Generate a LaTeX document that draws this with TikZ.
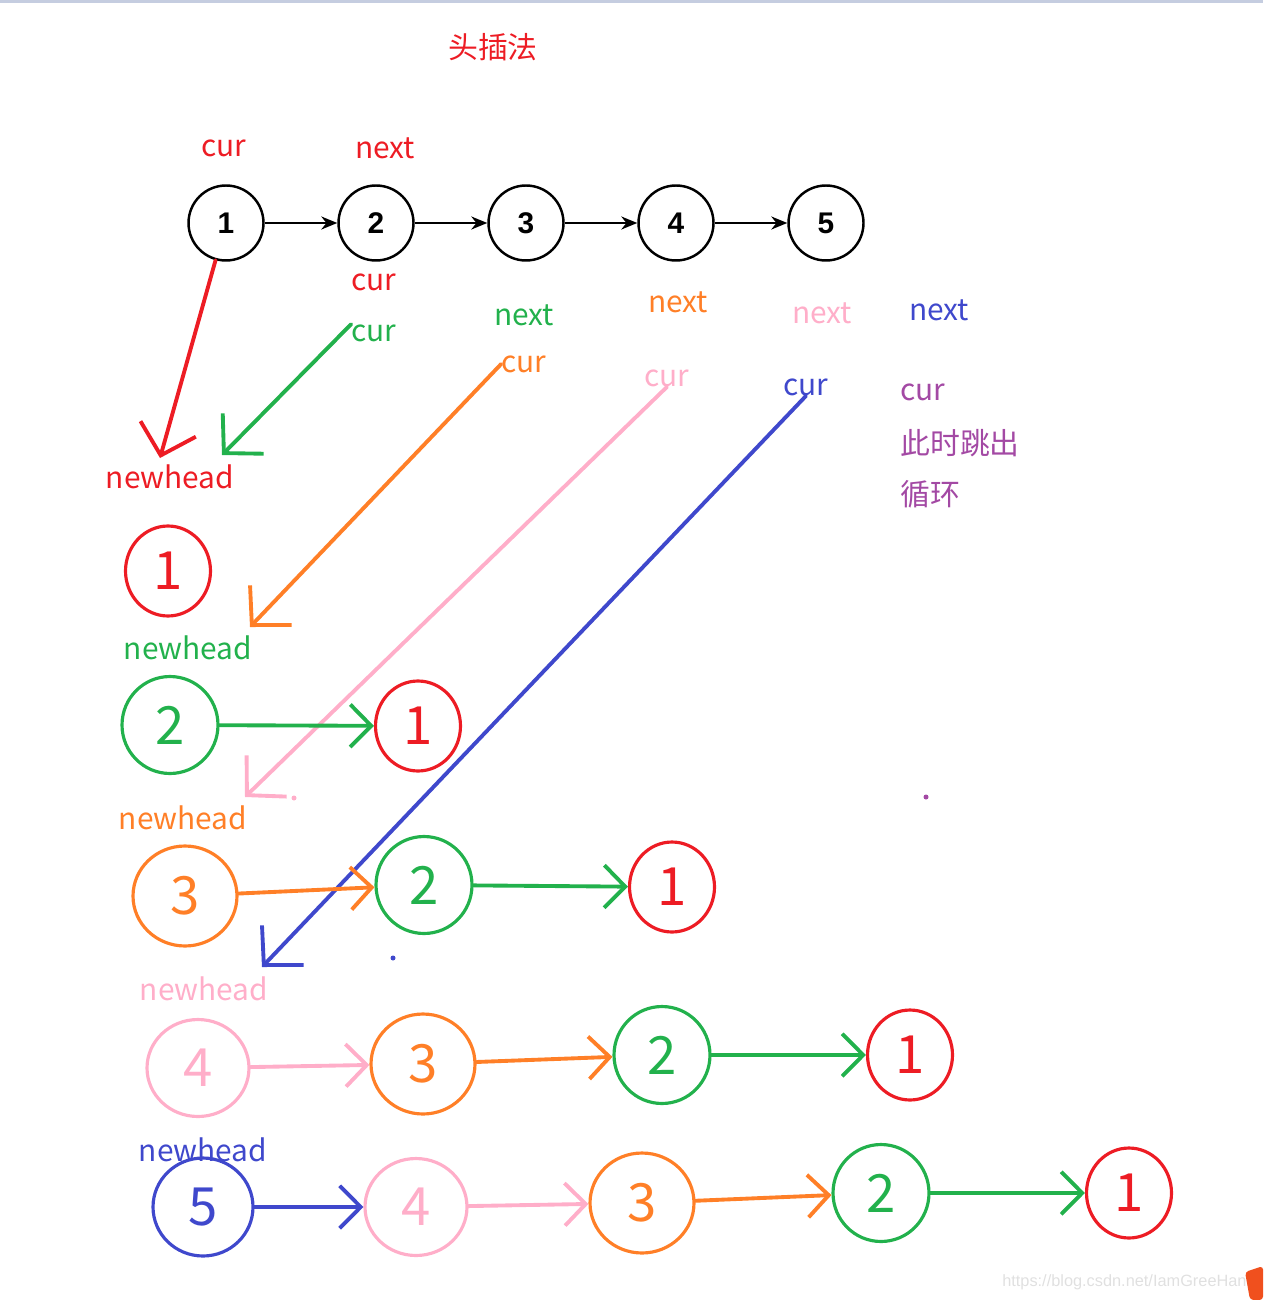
\documentclass[tikz,border=0pt]{standalone}
\usepackage{xcolor}
\usepackage{fontspec}
\setmainfont{Noto Sans CJK SC}
\newfontfamily\numfont{Liberation Sans}
\usetikzlibrary{arrows.meta,shapes.geometric}
\definecolor{hred}{RGB}{237,28,36}
\definecolor{hgreen}{RGB}{34,177,76}
\definecolor{horange}{RGB}{255,127,39}
\definecolor{hpink}{RGB}{255,174,201}
\definecolor{hblue}{RGB}{63,72,204}
\definecolor{hpurple}{RGB}{163,73,164}
\definecolor{frame}{RGB}{197,205,224}
\definecolor{csdn}{RGB}{240,80,30}

\begin{document}
\begin{tikzpicture}[x=0.02cm,y=-0.02cm,
  lbl/.style={font=\fontsize{17}{20}\selectfont,inner sep=0pt},
  blk/.style={circle,draw=black,line width=1.4pt,minimum size=1.5cm,inner sep=0pt,font=\numfont\bfseries\fontsize{17}{17}\selectfont},
  ring/.style={ellipse,line width=1.8pt,inner sep=0pt,font=\fontsize{30}{30}\selectfont},
  ringone/.style={ring,draw=hred,text=hred,minimum width=1.7cm,minimum height=1.8cm},
  ringtwo/.style={ring,draw=hgreen,text=hgreen,minimum width=1.92cm,minimum height=1.94cm},
  ringthree/.style={ring,draw=horange,text=horange,minimum width=2.08cm,minimum height=2cm},
  ringfour/.style={ring,draw=hpink,text=hpink,minimum width=2.04cm,minimum height=1.94cm},
  ringfive/.style={ring,draw=hblue,text=hblue,minimum width=2cm,minimum height=1.96cm},
  hand/.style={line width=2.2pt,line cap=round,-{Straight Barb[length=0.42cm,width=0.85cm]}},
  long/.style={line width=2.2pt,line cap=round,-{Straight Barb[length=0.55cm,width=1.15cm]}},
  link/.style={line width=1.4pt,-{Stealth[length=0.32cm,width=0.26cm]}}]
\useasboundingbox (0,0) rectangle (1263,1300);
\fill[frame] (0,0) rectangle (1263,3);
\node[lbl,text=hred] (title) at (493,47) {头插法};

% the list
\foreach \i/\x in {1/226,2/376,3/526,4/676,5/826}
  \node[blk] (t\i) at (\x,223) {\i};
\foreach \i/\j in {1/2,2/3,3/4,4/5}
  \draw[link] (t\i) -- (t\j);

% labels of each step
\node[lbl,text=hred] (cura) at (224,148) {cur};
\node[lbl,text=hred] (nexta) at (385,148) {next};
\node[lbl,text=hred] (curr) at (374,282) {cur};
\node[lbl,text=hgreen] (nextg) at (524,315) {next};
\node[lbl,text=hgreen] (curg) at (374,333) {cur};
\node[lbl,text=horange] (nexto) at (678,302) {next};
\node[lbl,text=horange] (curo) at (524,364) {cur};
\node[lbl,text=hpink] (nextp) at (822,313) {next};
\node[lbl,text=hpink] (curp) at (667,378) {cur};
\node[lbl,text=hblue] (nextb) at (939,310) {next};
\node[lbl,text=hblue] (curb) at (806,387) {cur};
\node[lbl,text=hpurple,anchor=west] (curx) at (900,392) {cur};
\node[lbl,text=hpurple,anchor=west] (stop) at (900,443) {此时跳出};
\node[lbl,text=hpurple,anchor=west] (loop) at (900,494) {循环};

% where newhead points
\coordinate (tipr) at (160,458);
\coordinate (tipg) at (222,455);
\coordinate (tipo) at (250,627);
\coordinate (tipp) at (245,797);
\coordinate (tipb) at (262,967);
\draw[long,hred] (t1) -- (tipr);
\draw[long,hgreen] (curg.north west) -- (tipg);
\draw[long,horange] (curo.west) -- (tipo);
\draw[long,hpink] (curp.south) -- (tipp);
\draw[long,hblue] (curb.south) -- (tipb);

\node[lbl,text=hred] (nhr) at (170,477) {newhead};
\node[lbl,text=hgreen] (nhg) at (188,648) {newhead};
\node[lbl,text=horange] (nho) at (183,818) {newhead};
\node[lbl,text=hpink] (nhp) at (204,989) {newhead};
\node[lbl,text=hblue] (nhb) at (203,1150) {newhead};

% step 1
\node[ringone] (a1) at (168,571) {1};
% step 2
\node[ringtwo] (b2) at (170,725) {2};
\node[ringone] (b1) at (418,726) {1};
\draw[hand,hgreen] (b2) -- (b1);
% step 3
\node[ringthree] (c3) at (185,896) {3};
\node[ringtwo] (c2) at (424,885) {2};
\node[ringone] (c1) at (672,887) {1};
\draw[hand,horange] (c3) -- (c2);
\draw[hand,hgreen] (c2) -- (c1);
% step 4
\node[ringfour] (d4) at (198,1068) {4};
\node[ringthree] (d3) at (423,1064) {3};
\node[ringtwo] (d2) at (662,1055) {2};
\node[ringone] (d1) at (910,1055) {1};
\draw[hand,hpink] (d4) -- (d3);
\draw[hand,horange] (d3) -- (d2);
\draw[hand,hgreen] (d2) -- (d1);
% step 5
\node[ringfive] (e5) at (203,1207) {5};
\node[ringfour] (e4) at (416,1207) {4};
\node[ringthree] (e3) at (642,1203) {3};
\node[ringtwo] (e2) at (881,1193) {2};
\node[ringone] (e1) at (1129,1193) {1};
\draw[hand,hblue] (e5) -- (e4);
\draw[hand,hpink] (e4) -- (e3);
\draw[hand,horange] (e3) -- (e2);
\draw[hand,hgreen] (e2) -- (e1);

% stray dots
\fill[hpink] (294,798) circle (2.5);
\fill[hblue] (393,958) circle (2.5);
\fill[hpurple] (926,797) circle (2.5);

% watermark
\node[text=black!12,font=\numfont\fontsize{9.3}{10}\selectfont,anchor=east,inner sep=0pt] (mark) at (1256,1282) {https://blog.csdn.net/IamGreeHand};
\fill[csdn,rounded corners=2] (1245,1272) -- (1263,1266) -- (1263,1300) -- (1250,1300) -- cycle;
\end{tikzpicture}
\end{document}
